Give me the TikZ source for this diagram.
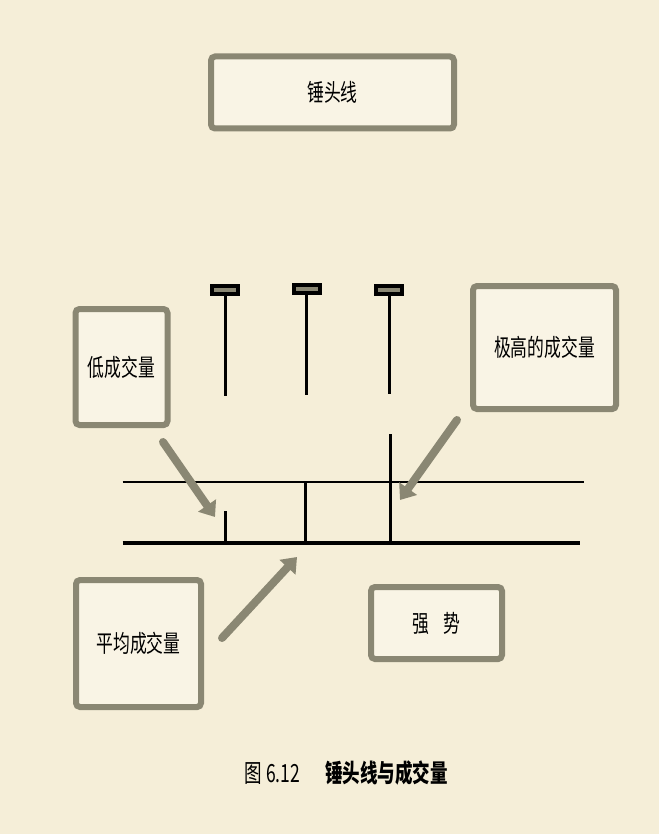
\documentclass[tikz,border=0pt]{standalone}
\usepackage{fontspec}
\setmainfont{Noto Sans CJK SC}
\newfontfamily\narrowcjk[FakeStretch=0.7]{Noto Sans CJK SC}
\usetikzlibrary{arrows.meta,shadows}
\definecolor{paper}{RGB}{245,238,216}
\definecolor{boxfill}{RGB}{249,244,229}
\definecolor{rim}{RGB}{138,135,115}
\begin{document}
\begin{tikzpicture}[x=1pt,y=-1pt,
		box/.style={rectangle, rounded corners=4pt, draw=rim, line width=6pt, fill=boxfill,
			drop shadow={shadow xshift=1.5pt, shadow yshift=-2.5pt, fill=black!75, opacity=.6},
			font=\narrowcjk\fontsize{24}{26}\selectfont, inner sep=2pt},
		hammerhead/.style={rectangle, draw=black, line width=4pt, fill=rim, minimum width=26pt, minimum height=8pt, inner sep=0pt},
		pointer/.style={draw=rim, line width=8pt, line cap=round, -{Triangle[length=14pt,width=21pt]}}]
	\fill[paper] (0,0) rectangle (659,834);
	\useasboundingbox (0,0) rectangle (659,834);
	% boxes
	\node[box, minimum width=243pt, minimum height=72pt] (title) at (332.5,92.5) {锤头线};
	\node[box, minimum width=92pt, minimum height=116pt] (low) at (121.5,367) {低成交量};
	\node[box, minimum width=143pt, minimum height=123pt] (high) at (544.5,347.5) {极高的成交量};
	\node[box, minimum width=125pt, minimum height=127pt] (mean) at (138.5,643.5) {平均成交量};
	\node[box, minimum width=131pt, minimum height=72pt] (strong) at (436.5,623) {强\hspace{0.6em}势};
	% hammers
	\node[hammerhead] (headA) at (225,290) {};
	\node[hammerhead] (headB) at (306.5,289) {};
	\node[hammerhead] (headC) at (389,290) {};
	\coordinate (endA) at (225,396);
	\coordinate (endB) at (306.5,395);
	\coordinate (endC) at (389,394);
	\draw[line width=3pt] (headA.south) -- (endA);
	\draw[line width=3pt] (headB.south) -- (endB);
	\draw[line width=3pt] (headC.south) -- (endC);
	% volume
	\coordinate (topL) at (122.5,482);
	\coordinate (topR) at (584,482);
	\coordinate (baseL) at (122.5,543);
	\coordinate (baseR) at (580,543);
	\draw[line width=2pt] (topL) -- (topR);
	\draw[line width=4pt] (baseL) -- (baseR);
	\coordinate (volA) at (225,511);
	\coordinate (volB) at (305,482);
	\coordinate (volC) at (390,434);
	\draw[line width=3pt] (volA) -- (volA |- baseL);
	\draw[line width=3pt] (volB) -- (volB |- baseL);
	\draw[line width=3pt] (volC) -- (volC |- baseL);
	% pointers
	\coordinate (lowTail) at (163,442);
	\coordinate (lowTip) at (215,517);
	\coordinate (highTail) at (457,420);
	\coordinate (highTip) at (400,500);
	\coordinate (meanTail) at (222,638);
	\coordinate (meanTip) at (297,557);
	\draw[pointer] (lowTail) -- (lowTip);
	\draw[pointer] (highTail) -- (highTip);
	\draw[pointer] (meanTail) -- (meanTip);
	% caption
	\node[font=\narrowcjk\fontsize{25}{27}\selectfont] (caption) at (346,773) {图\,6.12\hspace{1em}\textbf{锤头线与成交量}};
\end{tikzpicture}
\end{document}
